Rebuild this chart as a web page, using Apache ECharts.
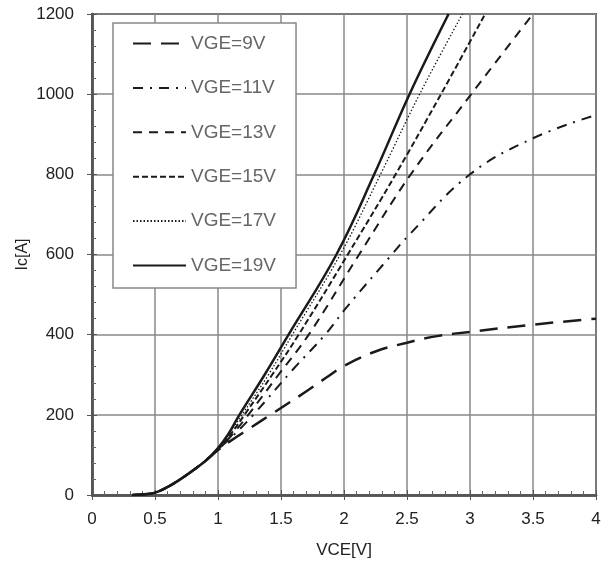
<!DOCTYPE html>
<html>
<head>
<meta charset="utf-8">
<script src="https://cdn.jsdelivr.net/npm/echarts@6/dist/echarts.min.js"></script>
<style>
    html, body { margin: 0; padding: 0; background: #fff; }
    #chart { width: 607px; height: 569px; }
</style>
</head>
<body>
<div id="chart"></div>
<script>
// VCE [V] -> Ic [A]
var seriesNames = ['VGE=9V', 'VGE=11V', 'VGE=13V', 'VGE=15V', 'VGE=17V', 'VGE=19V'];
var xTicks = [0, 0.5, 1, 1.5, 2, 2.5, 3, 3.5, 4];
var yTicks = [0, 200, 400, 600, 800, 1000, 1200];

var vge9 = [[0.32, 0], [0.4, 1], [0.5, 6], [0.6, 20], [0.7, 39], [0.8, 61], [0.9, 85], [1.0, 112], [1.1, 135], [1.25, 166], [1.44, 205], [1.65, 248], [1.86, 293], [2.0, 322], [2.25, 358], [2.5, 380], [2.75, 397], [3.0, 407], [3.5, 425], [4.0, 440]];
var vge11 = [[0.32, 0], [0.4, 1], [0.5, 6], [0.6, 20], [0.7, 39], [0.8, 61], [0.9, 85], [1.0, 114], [1.1, 142], [1.28, 200], [1.6, 315], [1.85, 400], [2.02, 468], [2.38, 600], [2.52, 650], [3.0, 800], [3.5, 890], [4.0, 948]];
var vge13 = [[0.32, 0], [0.4, 1], [0.5, 6], [0.6, 20], [0.7, 39], [0.8, 61], [0.9, 85], [1.0, 114], [1.1, 146], [1.24, 200], [1.48, 300], [1.72, 400], [2.12, 600], [2.53, 800], [3.01, 1000], [3.5, 1200]];
var vge15 = [[0.32, 0], [0.4, 1], [0.5, 6], [0.6, 20], [0.7, 39], [0.8, 61], [0.9, 85], [1.0, 115], [1.09, 147], [1.21, 200], [1.43, 300], [1.64, 400], [2.03, 600], [2.41, 800], [2.77, 1000], [3.12, 1200]];
var vge17 = [[0.32, 0], [0.4, 1], [0.5, 6], [0.6, 20], [0.7, 39], [0.8, 61], [0.9, 85], [1.0, 116], [1.08, 149], [1.19, 200], [1.4, 300], [1.59, 400], [1.97, 600], [2.29, 800], [2.6, 1000], [2.94, 1200]];
var vge19 = [[0.32, 0], [0.4, 1], [0.5, 6], [0.6, 20], [0.7, 39], [0.8, 61], [0.9, 85], [1.0, 117], [1.08, 151], [1.17, 200], [1.37, 300], [1.56, 400], [1.94, 600], [2.24, 800], [2.52, 1000], [2.83, 1200]];

var seriesData = [vge9, vge11, vge13, vge15, vge17, vge19];
var dashTypes = [[18, 10], [10, 7, 2, 7], [9, 7], [6, 3], [1.5, 2], 'solid'];
var lineWidths = [2.5, 2, 2, 2, 1.3, 2.5];

var myChart = echarts.init(document.getElementById('chart'));

var series = [];
for (var i = 0; i < seriesNames.length; i++) {
    series.push({
        name: seriesNames[i],
        type: 'line',
        data: seriesData[i],
        smooth: 0.4,
        symbol: 'none',
        clip: true,
        lineStyle: { color: '#1a1a1a', width: lineWidths[i], type: dashTypes[i] },
        itemStyle: { color: '#1a1a1a' }
    });
}

var axisFont = { fontFamily: 'Liberation Sans, Arial', fontSize: 17, color: '#222' };

var option = {
    animation: false,
    backgroundColor: '#fff',
    grid: { left: 92, right: 11, top: 14, bottom: 74, show: true, borderColor: '#555', borderWidth: 2 },
    legend: {
        data: seriesNames,
        orient: 'vertical',
        left: 113,
        top: 23,
        padding: [11, 20, 13, 19],
        itemWidth: 53,
        itemHeight: 18,
        itemGap: 25.4,
        backgroundColor: '#fff',
        borderColor: '#888',
        borderWidth: 1.5,
        itemStyle: { opacity: 0 },
        textStyle: { fontFamily: 'Liberation Sans, Arial', fontSize: 19, color: '#666' }
    },
    xAxis: [{
        type: 'value',
        min: 0, max: 4, interval: 0.5,
        name: 'VCE[V]',
        nameLocation: 'middle',
        nameGap: 47,
        nameMoveOverlap: false,
        nameTextStyle: { fontFamily: 'Liberation Sans, Arial', fontSize: 17, color: '#222' },
        axisLine: { lineStyle: { color: '#555', width: 2.5 } },
        axisTick: { inside: true, length: 5, lineStyle: { color: '#555' } },
        minorTick: { show: true, splitNumber: 5, length: 4, lineStyle: { color: '#666' } },
        axisLabel: Object.assign({ margin: 16, formatter: function (v) { return xTicks.indexOf(v) >= 0 ? String(v) : ''; } }, axisFont),
        splitLine: { show: true, lineStyle: { color: '#888', width: 1.5 } }
    }, {
        type: 'value',
        position: 'top',
        min: 0, max: 4, interval: 0.5,
        axisLine: { show: true, lineStyle: { color: '#555', width: 2.5 } },
        axisTick: { inside: true, length: 5, lineStyle: { color: '#555' } },
        axisLabel: { show: false },
        splitLine: { show: false }
    }],
    yAxis: [{
        type: 'value',
        min: 0, max: 1200, interval: 200,
        name: 'Ic[A]',
        nameLocation: 'middle',
        nameGap: 61,
        nameMoveOverlap: false,
        nameRotate: 90,
        nameTextStyle: { fontFamily: 'Liberation Sans, Arial', fontSize: 16, color: '#222' },
        axisLine: { show: true, lineStyle: { color: '#555', width: 2.5 } },
        axisTick: { inside: true, length: 5, lineStyle: { color: '#555' } },
        minorTick: { show: true, splitNumber: 5, length: 4, lineStyle: { color: '#666' } },
        axisLabel: Object.assign({ margin: 18, formatter: function (v) { return yTicks.indexOf(v) >= 0 ? String(v) : ''; } }, axisFont),
        splitLine: { show: true, lineStyle: { color: '#888', width: 1.5 } }
    }, {
        type: 'value',
        position: 'right',
        min: 0, max: 1200, interval: 200,
        axisLine: { show: true, lineStyle: { color: '#555', width: 2.5 } },
        axisTick: { inside: true, length: 5, lineStyle: { color: '#555' } },
        axisLabel: { show: false },
        splitLine: { show: false }
    }],
    series: series
};

myChart.setOption(option);
</script>
</body>
</html>
